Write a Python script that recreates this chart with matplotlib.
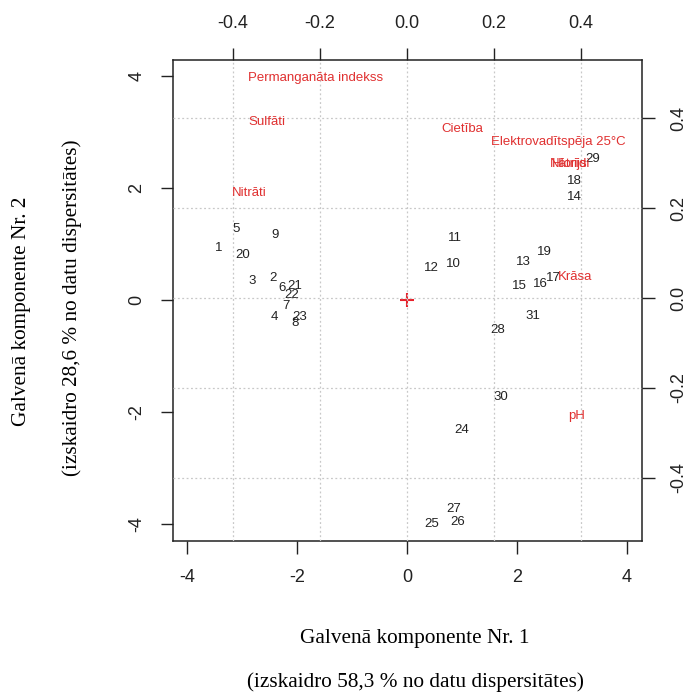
import numpy as np
import matplotlib
matplotlib.use("Agg")
import matplotlib.pyplot as plt

plt.rcParams["axes.unicode_minus"] = False
plt.rcParams["font.family"] = ["Liberation Sans", "DejaVu Sans"]

# observation scores (PC1, PC2)
obs_labels = ["1", "2", "3", "4", "5", "6", "7", "8", "9", "10",
              "11", "12", "13", "14", "15", "16", "17", "18", "19", "20",
              "21", "22", "23", "24", "25", "26", "27", "28", "29", "30", "31"]
pc1 = [-3.42, -2.44, -2.82, -2.42, -3.11, -2.27, -2.20, -2.04, -2.40, 0.84,
       0.87, 0.45, 2.11, 3.04, 2.04, 2.42, 2.67, 3.04, 2.49, -2.98,
       -2.05, -2.09, -1.95, 1.00, 0.45, 0.93, 0.84, 1.64, 3.38, 1.71, 2.29]
pc2 = [0.93, 0.39, 0.34, -0.30, 1.27, 0.21, -0.11, -0.41, 1.16, 0.64,
       1.11, 0.57, 0.68, 1.84, 0.25, 0.29, 0.39, 2.13, 0.86, 0.80,
       0.25, 0.09, -0.30, -2.31, -4.00, -3.96, -3.73, -0.54, 2.52, -1.73, -0.29]

# variable loadings (secondary axes)
var_labels = ["Permanganāta indekss", "Sulfāti", "Nitrāti", "Cietība",
              "Elektrovadītspēja 25°C", "Nātrijs", "Hlorīdi", "Krāsa", "pH"]
load1 = [-0.211, -0.322, -0.363, 0.126, 0.347, 0.372, 0.376, 0.386, 0.390]
load2 = [0.489, 0.391, 0.233, 0.376, 0.347, 0.298, 0.298, 0.047, -0.262]

xticks = [-4, -2, 0, 2, 4]
yticks = [-4, -2, 0, 2, 4]
sticks = [-0.4, -0.2, 0.0, 0.2, 0.4]

W, H = 688, 697
fig = plt.figure(figsize=(6.88, 6.97), dpi=100)
pos = [173 / W, 1 - 541 / H, (642 - 173) / W, (541 - 60) / H]
ax = fig.add_axes(pos)
ax.set_xlim(-4.255, 4.273)
ax.set_ylim(-4.30, 4.286)

for x, y, t in zip(pc1, pc2, obs_labels):
    ax.text(x, y, t, ha="center", va="center", fontsize=9.5, color="#222222")
ax.plot(0, 0, marker="+", color="#e8202a", markersize=10, mew=1.5)

ax.set_xticks(xticks)
ax.set_yticks(yticks)
ax.set_xticklabels([str(v) for v in xticks])
ax.set_yticklabels([str(v) for v in yticks], rotation=90, va="center")
ax.tick_params(direction="out", length=9, width=1, labelsize=13, pad=11, colors="#222222")
for s in ax.spines.values():
    s.set_linewidth(1.1)
    s.set_color("#222222")

# axis titles (serif, two lines each)
serif = "Liberation Serif"
fig.text(415 / W, 1 - 638 / H, "Galvenā komponente Nr. 1", family=serif,
         fontsize=15.3, ha="center", va="center")
fig.text(415 / W, 1 - 682 / H, "(izskaidro 58,3 % no datu dispersitātes)", family=serif,
         fontsize=15.3, ha="center", va="center")
fig.text(22 / W, 1 - 311 / H, "Galvenā komponente Nr. 2", family=serif,
         fontsize=15.3, ha="center", va="center", rotation=90)
fig.text(72 / W, 1 - 308 / H, "(izskaidro 28,6 % no datu dispersitātes)", family=serif,
         fontsize=15.3, ha="center", va="center", rotation=90)

# secondary axes for loadings
ax2 = fig.add_axes(pos)
ax2.patch.set_visible(False)
ax2.set_xlim(-0.538, 0.540)
ax2.set_ylim(-0.540, 0.529)
for s in ax2.spines.values():
    s.set_visible(False)
ax2.xaxis.tick_top()
ax2.yaxis.tick_right()
ax2.set_xticks(sticks)
ax2.set_yticks(sticks)
ax2.set_xticklabels(["%.1f" % v for v in sticks])
ax2.set_yticklabels(["%.1f" % v for v in sticks], rotation=90, va="center")
ax2.tick_params(direction="out", length=9, width=1, labelsize=13, pad=11, colors="#222222")
ax2.grid(True, linestyle=(0, (1.5, 2)), color="#c8c8c8", linewidth=0.9)
ax2.set_axisbelow(True)

for x, y, t in zip(load1, load2, var_labels):
    ax2.text(x, y, t, ha="center", va="center", fontsize=9.5, color="#e03030")

fig.savefig("out.png", dpi=100)
